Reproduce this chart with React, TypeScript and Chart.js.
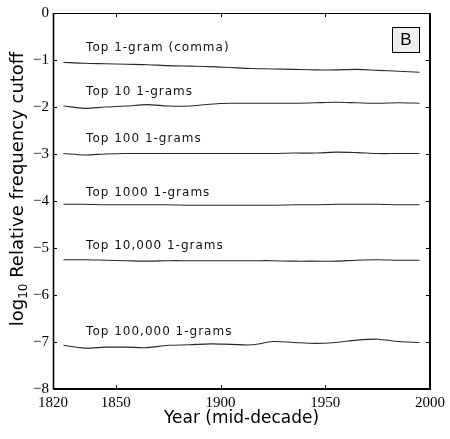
import React, { useEffect, useRef } from 'react';
import Chart from 'chart.js/auto';

const years = [1825, 1835, 1845, 1855, 1865, 1875, 1885, 1895, 1905, 1915, 1925, 1935, 1945, 1955, 1965, 1975, 1985, 1995];
const top1 = [-1.05, -1.07, -1.08, -1.09, -1.10, -1.12, -1.13, -1.14, -1.16, -1.18, -1.19, -1.20, -1.21, -1.21, -1.20, -1.22, -1.24, -1.26];
const top10 = [-1.98, -2.03, -2.00, -1.98, -1.95, -1.98, -1.98, -1.94, -1.92, -1.92, -1.92, -1.92, -1.91, -1.90, -1.91, -1.92, -1.91, -1.92];
const top100 = [-2.99, -3.02, -3.00, -2.99, -2.99, -2.99, -2.99, -2.99, -2.99, -2.99, -2.99, -2.98, -2.98, -2.96, -2.97, -2.99, -2.99, -2.99];
const top1000 = [-4.07, -4.07, -4.08, -4.08, -4.08, -4.08, -4.09, -4.09, -4.09, -4.09, -4.09, -4.08, -4.08, -4.07, -4.07, -4.07, -4.08, -4.08];
const top10000 = [-5.25, -5.25, -5.26, -5.27, -5.28, -5.27, -5.27, -5.27, -5.27, -5.27, -5.27, -5.28, -5.28, -5.28, -5.26, -5.25, -5.26, -5.26];
const top100000 = [-7.07, -7.13, -7.11, -7.11, -7.12, -7.07, -7.06, -7.04, -7.05, -7.06, -6.99, -7.01, -7.03, -7.01, -6.96, -6.94, -6.99, -7.01];

const seriesValues = [top1, top10, top100, top1000, top10000, top100000];
const seriesLabels = ['Top 1-gram (comma)', 'Top 10 1-grams', 'Top 100 1-grams', 'Top 1000 1-grams', 'Top 10,000 1-grams', 'Top 100,000 1-grams'];
const labelYear = 1835.8;
const labelValues = [-0.80, -1.745, -2.74, -3.89, -5.03, -6.85];

const xTicks = [1820, 1850, 1900, 1950, 2000];
const yTicks = [0, -1, -2, -3, -4, -5, -6, -7, -8];
const xMin = 1820;
const xMax = 2000;
const yMin = -8;
const yMax = 0;
const panelLabel = 'B';
const xTitle = 'Year (mid-decade)';
const yTitleMain = 'log';
const yTitleSub = '10';
const yTitleRest = ' Relative frequency cutoff';

const overlayPlugin = {
  id: 'overlay',
  afterDraw(chart: any) {
    const ctx = chart.ctx as CanvasRenderingContext2D;
    const { left, right, top, bottom } = chart.chartArea;
    const xs = chart.scales.x;
    const ys = chart.scales.y;
    ctx.save();
    // frame
    ctx.strokeStyle = '#000';
    ctx.lineWidth = 1;
    ctx.beginPath();
    ctx.moveTo(left, top + 0.5);
    ctx.lineTo(right, top + 0.5);
    ctx.stroke();
    ctx.lineWidth = 1.6;
    ctx.beginPath();
    ctx.moveTo(left + 0.5, top);
    ctx.lineTo(left + 0.5, bottom);
    ctx.stroke();
    ctx.lineWidth = 2;
    ctx.beginPath();
    ctx.moveTo(left, bottom);
    ctx.lineTo(right + 1, bottom);
    ctx.moveTo(right, top);
    ctx.lineTo(right, bottom);
    ctx.stroke();
    // inward ticks
    ctx.lineWidth = 1;
    ctx.beginPath();
    xTicks.forEach((v) => {
      if (v === xMin || v === xMax) return;
      const px = Math.round(xs.getPixelForValue(v)) + 0.5;
      ctx.moveTo(px, bottom);
      ctx.lineTo(px, bottom - 4);
      ctx.moveTo(px, top);
      ctx.lineTo(px, top + 4);
    });
    yTicks.forEach((v) => {
      if (v === yMin || v === yMax) return;
      const py = Math.round(ys.getPixelForValue(v)) + 0.5;
      ctx.moveTo(left, py);
      ctx.lineTo(left + 4, py);
      ctx.moveTo(right, py);
      ctx.lineTo(right - 4, py);
    });
    ctx.stroke();
    // series labels
    ctx.fillStyle = '#111';
    ctx.font = '12px "DejaVu Sans"';
    (ctx as any).letterSpacing = '1px';
    ctx.textAlign = 'left';
    ctx.textBaseline = 'alphabetic';
    seriesLabels.forEach((t, i) => {
      ctx.fillText(t, xs.getPixelForValue(labelYear), ys.getPixelForValue(labelValues[i]));
    });
    (ctx as any).letterSpacing = '0px';
    // panel label box
    const bx = right - 38;
    const by = top + 14;
    const bw = 27;
    const bh = 25;
    ctx.fillStyle = '#eeeeee';
    ctx.fillRect(bx, by, bw, bh);
    ctx.strokeStyle = '#000';
    ctx.lineWidth = 1;
    ctx.strokeRect(bx + 0.5, by + 0.5, bw, bh);
    ctx.fillStyle = '#000';
    ctx.font = '17px "Liberation Sans"';
    ctx.textAlign = 'center';
    ctx.textBaseline = 'middle';
    ctx.fillText(panelLabel, bx + bw / 2 + 0.5, by + bh / 2 + 1);
    // y title with subscript
    const mainFont = '18px "DejaVu Sans"';
    const subFont = '12px "DejaVu Sans"';
    ctx.font = mainFont;
    const w1 = ctx.measureText(yTitleMain).width;
    const w3 = ctx.measureText(yTitleRest).width;
    ctx.font = subFont;
    const w2 = ctx.measureText(yTitleSub).width;
    const total = w1 + w2 + w3;
    ctx.translate(23, 189);
    ctx.rotate(-Math.PI / 2);
    ctx.textAlign = 'left';
    ctx.textBaseline = 'alphabetic';
    let cx = -total / 2;
    ctx.font = mainFont;
    ctx.fillText(yTitleMain, cx, 0);
    cx += w1;
    ctx.font = subFont;
    ctx.fillText(yTitleSub, cx, 4);
    cx += w2;
    ctx.font = mainFont;
    ctx.fillText(yTitleRest, cx, 0);
    ctx.restore();
  },
};

export default function App() {
  const ref = useRef<HTMLCanvasElement | null>(null);
  useEffect(() => {
    if (!ref.current) return;
    const chart = new Chart(ref.current, {
      type: 'line',
      data: {
        datasets: seriesValues.map((vals, i) => ({
          label: seriesLabels[i],
          data: years.map((y, j) => ({ x: y, y: vals[j] })),
          borderColor: '#2a2a2a',
          borderWidth: 1.1,
          pointRadius: 0,
          tension: 0.3,
          fill: false,
        })),
      },
      options: {
        animation: false,
        responsive: false,
        maintainAspectRatio: false,
        layout: { padding: { left: 0, right: 20, top: 13, bottom: 0 } },
        plugins: { legend: { display: false }, tooltip: { enabled: false } },
        scales: {
          x: {
            type: 'linear',
            min: xMin,
            max: xMax,
            grid: { display: false, drawTicks: false },
            border: { display: false },
            afterBuildTicks: (s: any) => {
              s.ticks = xTicks.map((v) => ({ value: v }));
            },
            afterFit: (s: any) => {
              s.height = 50;
            },
            ticks: {
              color: '#000',
              font: { family: '"Liberation Serif"', size: 15 },
              padding: 5,
              maxRotation: 0,
              autoSkip: false,
              callback: (v: any) => String(v),
            },
            title: {
              display: true,
              text: xTitle,
              color: '#000',
              font: { family: '"DejaVu Sans"', size: 17 },
              padding: { top: 0, bottom: 10 },
            },
          },
          y: {
            type: 'linear',
            min: yMin,
            max: yMax,
            grid: { display: false, drawTicks: false },
            border: { display: false },
            afterBuildTicks: (s: any) => {
              s.ticks = yTicks.map((v) => ({ value: v }));
            },
            afterFit: (s: any) => {
              s.width = 53;
            },
            ticks: {
              color: '#000',
              font: { family: '"Liberation Serif"', size: 15 },
              padding: 4,
              callback: (v: any) => (v === 0 ? '0' : '\u2212' + Math.abs(v)),
            },
          },
        },
      },
      plugins: [overlayPlugin],
    });
    return () => chart.destroy();
  }, []);
  return (
    <div style={{ position: 'absolute', left: 0, top: 0, width: 450, height: 439, background: '#fff' }}>
      <canvas ref={ref} width={450} height={439} />
    </div>
  );
}
